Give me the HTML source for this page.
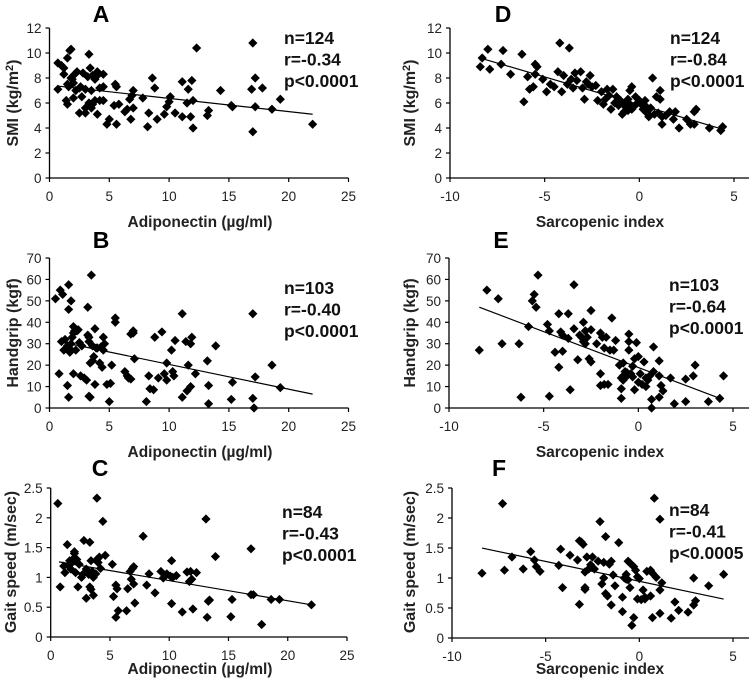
<!DOCTYPE html>
<html><head><meta charset="utf-8"><style>
html,body{margin:0;padding:0;background:#fff;}
svg{display:block;font-family:"Liberation Sans",Arial,sans-serif;}
</style></head><body>
<svg id="chart" width="753" height="687" viewBox="0 0 753 687"></svg>
<script>
// ---------- Data ----------
const aX=[0.7,1,1.2,0.7,1.2,1.5,1.8,1.7,1.5,1.8,2,2.3,1.4,1.5,1.6,2.2,2.5,2.7,2.5,3,2.8,3.2,3.3,3.4,3.6,3.8,4,4.2,4.5,3.5,3.3,3.5,3.8,4,4.2,4.5,4.5,4.8,5,5.5,5.4,5.8,5.6,6.5,6.7,6.8,7,7,6.9,7.8,8.2,8.3,8.6,8.8,9,9.6,9.8,10,10.1,10.5,11.1,11.1,11.5,11.6,11.8,11.9,12,12,12.3,13.2,13.3,14.3,15.2,15.3,16.9,17,17,17.2,17.2,17.8,18.6,19.3,22,1.9,2.1,2.6,3,3.6,3,4,5.6,6.3,2];
const aY=[9.2,9,8.8,7.1,8.3,9.6,10.3,10.2,7.5,8,7.6,8.5,6.2,5.9,7.3,7,7.2,6.5,5.2,5.2,8.4,8.1,9.9,8.8,8.2,7.9,8.2,7.2,8.3,7,6,5.6,6.2,5.1,6.2,6.2,7.3,4.3,4.7,7.5,5.8,5.9,4.3,5.5,6.3,4.7,5.6,7,6.6,6.4,4.1,5.2,8,7.2,4.7,5.1,5.7,6.1,6.5,5.2,7.7,4.9,6,7.1,4.9,7.8,6.2,4,10.4,5,5.4,7,5.8,5.7,7.1,10.8,3.7,8,5.7,7.2,5.5,6.3,4.3,7.9,8.3,7.3,7.1,5.9,5.6,8.5,7.3,5.3,6.4];
const aFit=[7.43,-0.106,0.7,22];
const dX=[-8.4,-8.3,-8,-7.9,-7.2,-7.3,-6.8,-6.2,-6.1,-5.9,-5.8,-5.6,-5.5,-5.4,-5.5,-5.1,-4.9,-4.7,-4.5,-4.3,-4.1,-4.2,-3.7,-4,-3.8,-3.6,-3.4,-3.3,-3.1,-3,-2.9,-2.8,-2.6,-2.5,-2.3,-2.2,-2,-1.9,-1.8,-1.7,-1.6,-1.5,-1.4,-1.3,-1.1,-1,-0.9,-0.8,-0.7,-0.6,-0.5,-0.4,-0.3,-0.2,0,0.1,0.2,0.3,0.4,0.5,0.6,0.7,0.8,0.9,1,1.1,1.1,1.2,1.2,1.4,1.6,1.8,1.9,2.1,2.5,2.7,2.9,3,2.9,3.7,4.3,4.4,-0.5,-0.6,-0.4,-0.1,-1.2,-2.7,-3.5,-0.8,0.3];
const dY=[8.9,9.6,10.3,8.7,10.2,9.1,8.3,9.9,6.1,8.1,7.1,7.3,9.1,8.9,8.3,7.9,6.9,7.5,7.3,8.5,6.9,10.8,10.4,8.2,7.5,7.9,8.4,7.8,8.5,7.2,6.3,7.7,8.2,7.3,7.4,6.2,6.9,5.9,6.3,7.1,6.6,5.5,7.1,6,5.8,6.2,5.1,5.8,6.1,5.4,7,7.3,5.7,6.5,6.2,5.9,5.5,5.8,5.2,4.9,5.6,8,5.1,6.5,5.2,7,6.3,4.9,4.3,5,5.3,4.7,5.3,4,4.7,4.3,5.3,5.5,4.3,4,3.8,4.1,5.9,6.3,5.5,6,6.5,7.5,7.2,5.3,6.2];
const dFit=[5.86,-0.445,-8.4,4.4];
const bX=[0.5,0.8,0.9,1.1,1,1.2,1.5,1.5,1.6,1.6,1.6,1.7,1.8,1.8,2,2,2.1,2.2,2,2.3,2.5,2.6,2.9,3.1,3.2,3.2,3.3,3.4,3.4,3.3,3.5,3.6,3.7,3.8,3.9,3.8,4,4.2,4.4,4.5,4.5,4.6,4.8,5.1,5,5.2,5.5,5.5,6.3,6.5,6.6,6.8,6.8,7,7,7.1,8.1,8.3,8.4,8.7,8.8,9.1,9.4,9.6,9.8,9.8,10.2,10.3,10.4,10.5,11.1,11.1,11.4,11.5,11.6,11.8,11.8,11.9,12.2,13.2,13.3,13.3,13.9,15.2,15.3,17,17,17.1,17.2,18.6,19.3,1.3,1.9,2.7,3.6,1.4,2.4,4.3,1.8,3.3];
const bY=[51,16,55,53,31,27,29,10.5,5,46,57.5,26,50,30,38,35,36,27,16,36,30.5,15,14,13,47,34,31,21,5,5.5,62,22,24,37,28,11,28,21,19,33,27,30,11,11.5,3,20,42,40,17,15,14,13.5,34.5,36,35,23,3,15,9,8.5,33,14,35.5,16,13,21,27,17,15,31.5,44,5,31,8,20,10,30,33,16,22,10.5,2,29,4,12,44,4.5,0,14.5,20,9.5,32,33,29,29,28,36.5,28.5,27,33];
const bFit=[31.9,-1.156,0.8,22];
const eX=[-8.4,-8,-7.4,-7.2,-6.3,-6.2,-5.8,-5.6,-5.5,-5.4,-5.3,-4.8,-4.7,-4.7,-4.4,-4.2,-4.2,-4.1,-4,-4,-3.7,-3.7,-3.6,-3.4,-3.4,-3.2,-3.1,-3,-2.9,-2.9,-2.8,-2.8,-2.7,-2.6,-2.5,-2.5,-2.5,-2.2,-2,-2,-2,-1.9,-1.8,-1.8,-1.7,-1.6,-1.5,-1.4,-1.2,-1,-0.9,-0.9,-0.8,-0.8,-0.8,-0.7,-0.6,-0.5,-0.5,-0.5,-0.4,-0.3,-0.2,-0.2,-0.1,0,0,0.1,0.2,0.3,0.4,0.5,0.6,0.7,0.7,0.8,0.8,1.1,1.1,1.1,1.2,1.3,1.7,1.9,2.5,2.5,2.9,3,3.7,4.3,4.5,-0.9,-0.3,0.4,-1.3,-0.6];
const eY=[27,55,51,30,30,5,38,50,53,47,62,39,36,5.5,26,44,19,35.5,34,26.5,44,32.5,8.5,57.5,37,22.5,34,33,40,31,30,36,33,23,45.5,21.5,36.5,30,10.5,16,35,33,11,28,33,11,27,42,31.5,20,4.5,9,13,15,21,17,15,34.5,31,27,16,19.5,23,8.5,30.5,24,12,16,11,21.5,10,13,15,4,0,17,28.5,22,5,15,10.5,8,14,2,13.5,3,15,20,3,4.5,15,14,14.5,14,27,16.5];
const eFit=[18.9,-3.35,-8.4,4.3];
const cX=[0.6,0.8,1.1,1.2,1.4,1.6,1.7,1.8,1.9,2,2,2.1,2.2,2.3,2.4,2.6,2.8,3,3,3.3,3.3,3.4,3.4,3.5,3.6,3.6,3.8,3.9,3.9,4,4.1,4.4,4.6,5.2,5.3,5.5,5.5,5.6,5.7,6.4,6.5,6.7,6.8,6.9,7,7,7.1,7.8,8.1,8.3,8.8,9.3,9.5,9.8,10.1,10.2,10.3,10.2,10.6,11.1,11.5,11.7,11.8,11.9,12,12.3,13.1,13.2,13.3,13.4,13.9,15.2,15.3,16.9,16.9,17.1,17.8,18.6,19.3,22,2.7,1.5,3.2,4.2];
const cY=[2.24,0.84,1.19,1.08,1.55,1.28,1.14,1.25,1.31,1.43,1.4,1.08,1.3,0.84,1.22,1,1.62,0.65,1.14,1.59,0.84,0.8,1.28,1.1,0.7,1,1.06,2.33,1.3,1.25,1.34,1.94,1.37,1.22,0.68,0.87,0.33,0.81,0.44,0.44,0.81,1.1,0.97,1.15,1.18,0.89,0.57,1.69,0.87,1.06,0.74,1.1,0.99,1.06,1.02,1.28,1,0.56,1.03,0.42,1.09,0.93,1.1,0.97,0.47,1.08,1.98,0.33,0.6,0.62,1.35,0.34,0.63,1.48,0.71,0.71,0.21,0.63,0.63,0.54,1.05,1.2,1.05,1.15];
const cFit=[1.284,-0.0338,0.7,22];
const fX=[-8.4,-7.3,-7.2,-6.8,-6.2,-5.8,-5.6,-5.5,-5.3,-4.3,-4.2,-4.1,-3.7,-3.3,-3.2,-3.2,-3.1,-3,-2.9,-2.9,-2.9,-2.8,-2.7,-2.6,-2.5,-2.2,-2.1,-2,-1.9,-1.9,-1.8,-1.8,-1.7,-1.6,-1.5,-1.5,-1.4,-1.3,-1.1,-0.9,-0.9,-0.8,-0.7,-0.6,-0.6,-0.5,-0.5,-0.4,-0.3,-0.3,-0.2,-0.1,0,0.1,0.2,0.3,0.4,0.6,0.6,0.7,0.7,0.8,0.9,1.1,1.1,1.1,1.2,1.7,1.9,2.1,2.6,2.9,2.9,3,3.7,4.5,-0.7,-0.1,-2.4,0.3];
const fY=[1.08,2.24,1.13,1.35,1.15,1.44,1.3,1.19,1.11,1.21,1.48,0.84,1.38,1.3,1.62,0.56,1.6,1.56,0.84,0.81,1.1,1.35,1.15,1.22,1.35,1.28,1.94,0.9,1.26,1,1.69,0.74,0.7,1.23,1.28,0.55,1.05,0.87,1.59,0.68,0.44,1,1.06,1.28,0.97,1.25,0.84,0.21,1.19,0.34,1.13,0.65,0.99,0.64,0.8,0.65,1.11,0.7,1.13,1.08,0.34,2.33,1.01,1.98,0.8,0.41,0.92,0.33,0.6,0.46,0.43,0.55,1,0.62,0.87,1.06,0.98,1.02,1.15,0.68];
const fFit=[0.946,-0.0659,-8.4,4.5];
const xTicksAdipo=[0,5,10,15,20,25];
const xTicksSarco=[-10,-5,0,5];
const yTicksSMI=[0,2,4,6,8,10,12];
const yTicksGrip=[0,10,20,30,40,50,60,70];
const yTicksGait=[0,0.5,1,1.5,2,2.5];
const statsA=["n=124","r=-0.34","p<0.0001"];
const statsD=["n=124","r=-0.84","p<0.0001"];
const statsB=["n=103","r=-0.40","p<0.0001"];
const statsE=["n=103","r=-0.64","p<0.0001"];
const statsC=["n=84","r=-0.43","p<0.0001"];
const statsF=["n=84","r=-0.41","p<0.0005"];

const NS='http://www.w3.org/2000/svg';
const svg=document.getElementById('chart');
function mk(tag,attrs,parent,text){const e=document.createElementNS(NS,tag);for(const k in attrs)e.setAttribute(k,attrs[k]);if(text!==undefined)e.textContent=text;(parent||svg).appendChild(e);return e;}

function panel(p){
  const g=mk('g',{});
  
  
  const sx=v=>p.px0+(v-p.xmin)/(p.xmax-p.xmin)*(p.px1-p.px0);
  const sy=v=>p.py0-(v-p.ymin)/(p.ymax-p.ymin)*(p.py0-p.py1);
  const ax=sx(p.xmin);
  const yl=mk('line',{x1:ax,y1:p.py0,x2:ax,y2:sy(p.ymax),stroke:'#000','stroke-width':1.3},g);
  
  
  const xl=mk('line',{x1:ax,y1:p.py0,x2:p.axEnd,y2:p.py0,stroke:'#000','stroke-width':1.3},g);
  
  
  p.yTicks.forEach(v=>{
    mk('line',{x1:ax-4,y1:sy(v),x2:ax,y2:sy(v),stroke:'#000','stroke-width':1.2},g);
    const t=mk('text',{x:ax-8,y:sy(v)+5,'text-anchor':'end','font-size':13.5,fill:'#222'},g,String(v));
    
    
  });
  p.xTicks.forEach(v=>{
    mk('line',{x1:sx(v),y1:p.py0,x2:sx(v),y2:p.py0+4,stroke:'#000','stroke-width':1.2},g);
    const t=mk('text',{x:sx(v),y:p.py0+23,'text-anchor':'middle','font-size':13.5,fill:'#222'},g,String(v));
    
    
  });
  const f=p.fit;
  const fl=mk('line',{x1:sx(f[2]),y1:sy(f[0]+f[1]*f[2]),x2:sx(f[3]),y2:sy(f[0]+f[1]*f[3]),stroke:'#000','stroke-width':1.2},g);
  
  
  p.xs.forEach((xv,i)=>{
    const cx=sx(xv),cy=sy(p.ys[i]),r=4.6;
    const d=mk('path',{d:`M${cx} ${cy-r}L${cx+r} ${cy}L${cx} ${cy+r}L${cx-r} ${cy}Z`,fill:'#000'},g);
    
    
  });
  const L=mk('text',{x:p.letter[0],y:p.letter[1],'text-anchor':'middle','font-size':23,'font-weight':'bold'},g,p.id);
  
  
  p.stats.forEach((s,i)=>{
    const t=mk('text',{x:p.statPos[0],y:p.statPos[1]+i*21.5,'font-size':17.5,'font-weight':'bold',fill:'#111'},g,s);
    
    
  });
  const xt=mk('text',{x:p.xTitle[0],y:p.xTitle[1],'text-anchor':'middle','font-size':15.5,'font-weight':'bold',fill:'#222'},g,p.xLabel);
  
  
  const yt=mk('text',{x:0,y:0,'text-anchor':'middle','font-size':16,'font-weight':'bold',fill:'#222',transform:`translate(${p.yTitle[0]},${p.yTitle[1]}) rotate(-90)`},g);
  
  
  if(p.sup){yt.appendChild(document.createTextNode('SMI (kg/m'));mk('tspan',{'font-size':11,dy:-5},yt,'2');mk('tspan',{dy:5},yt,')');}
  else yt.textContent=p.yLabel;
}
const adipo='Adiponectin (\u00b5g/ml)', sarco='Sarcopenic index';
panel({id:'A',xs:aX,ys:aY,fit:aFit,stats:statsA,xTicks:xTicksAdipo,yTicks:yTicksSMI,xmin:0,xmax:25,ymin:0,ymax:12,px0:49.5,px1:348.5,py0:178,py1:28,axEnd:348.5,letter:[101,22],statPos:[284,44],xTitle:[200,227],yTitle:[18,103],sup:true,xLabel:adipo});
panel({id:'D',xs:dX,ys:dY,fit:dFit,stats:statsD,xTicks:xTicksSarco,yTicks:yTicksSMI,xmin:-10,xmax:5,ymin:0,ymax:12,px0:450,px1:734,py0:178,py1:28,axEnd:749,letter:[503,22],statPos:[670,44],xTitle:[600,227],yTitle:[415,103],sup:true,xLabel:sarco});
panel({id:'B',xs:bX,ys:bY,fit:bFit,stats:statsB,xTicks:xTicksAdipo,yTicks:yTicksGrip,xmin:0,xmax:25,ymin:0,ymax:70,px0:49.5,px1:348.5,py0:408,py1:258,axEnd:348.5,letter:[101,248],statPos:[284,294],xTitle:[200,457],yTitle:[18,333],xLabel:adipo,yLabel:'Handgrip (kgf)'});
panel({id:'E',xs:eX,ys:eY,fit:eFit,stats:statsE,xTicks:xTicksSarco,yTicks:yTicksGrip,xmin:-10,xmax:5,ymin:0,ymax:70,px0:449,px1:733,py0:408,py1:258,axEnd:749,letter:[501,248],statPos:[669,291],xTitle:[600,457],yTitle:[415,333],xLabel:sarco,yLabel:'Handgrip (kgf)'});
panel({id:'C',xs:cX,ys:cY,fit:cFit,stats:statsC,xTicks:xTicksAdipo,yTicks:yTicksGait,xmin:0,xmax:25,ymin:0,ymax:2.5,px0:50.7,px1:347,py0:637,py1:488,axEnd:347,letter:[100,476],statPos:[282,518],xTitle:[200,674],yTitle:[16,562],xLabel:adipo,yLabel:'Gait speed (m/sec)'});
panel({id:'F',xs:fX,ys:fY,fit:fFit,stats:statsF,xTicks:xTicksSarco,yTicks:yTicksGait,xmin:-10,xmax:5,ymin:0,ymax:2.5,px0:452,px1:733,py0:638,py1:488,axEnd:749,letter:[499,476],statPos:[669,516],xTitle:[600,674],yTitle:[415,562],xLabel:sarco,yLabel:'Gait speed (m/sec)'});
</script>
</body></html>
